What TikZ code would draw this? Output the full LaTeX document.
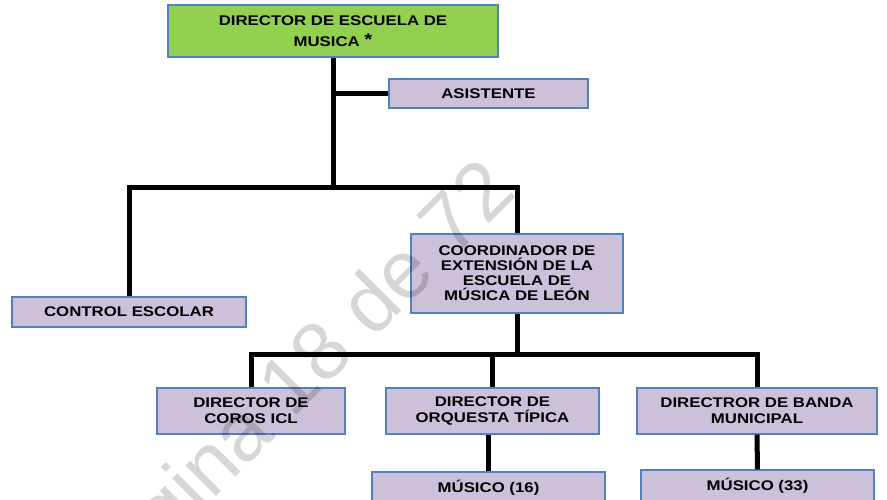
\documentclass[tikz,border=0pt]{standalone}
\usepackage{fontspec}
\setmainfont{Liberation Sans}
\newfontfamily\boxfont[FakeStretch=1.2]{Liberation Sans}
\usetikzlibrary{positioning}
\definecolor{jefe}{HTML}{92D050}
\definecolor{lila}{HTML}{CCC0DA}
\definecolor{borde}{HTML}{4F81BD}
\tikzset{
	puesto/.style={draw=borde, line width=1.3pt, fill=lila, inner sep=0pt, align=center,
		font=\boxfont\bfseries\fontsize{14}{16}\selectfont},
	liga/.style={line width=5pt, line join=miter}
}

\begin{document}
\begin{tikzpicture}[x=1pt,y=-1pt]
	\useasboundingbox (0,0) rectangle (887,500);
	% jefe de escuela
	\node[puesto, fill=jefe, minimum width=330pt, minimum height=52pt,
		font=\boxfont\bfseries\fontsize{14}{21}\selectfont] (director) at (333,31)
		{DIRECTOR DE ESCUELA DE\\MUSICA \raisebox{1pt}{\fontsize{17}{17}\selectfont *}};
	\node[puesto, minimum width=199pt, minimum height=29pt] (asistente) at (488.5,93.5) {ASISTENTE};
	\node[puesto, minimum width=234pt, minimum height=30pt] (control) at (129,312) {CONTROL ESCOLAR};
	\node[puesto, minimum width=212pt, minimum height=79pt,
		font=\boxfont\bfseries\fontsize{14}{15}\selectfont] (coordinador) at (517,273.5)
		{COORDINADOR DE\\EXTENSIÓN DE LA\\ESCUELA DE\\MÚSICA DE LEÓN};
	% directores
	\node[puesto, minimum width=188pt, minimum height=46pt] (coros) at (251,411) {DIRECTOR DE\\COROS ICL};
	\node[puesto, minimum width=213pt, minimum height=46pt] (orquesta) at (492.5,411) {DIRECTOR DE\\ORQUESTA TÍPICA};
	\node[puesto, minimum width=240pt, minimum height=46pt] (banda) at (757,411) {DIRECTROR DE BANDA\\MUNICIPAL};
	\node[puesto, minimum width=233pt, minimum height=32pt] (musico16) at (488.5,488) {MÚSICO (16)};
	\node[puesto, minimum width=233pt, minimum height=32pt] (musico33) at (757.5,486) {MÚSICO (33)};
	% lineas
	\coordinate (bus1) at (333,188);
	\coordinate (bus2) at (517,354);
	\draw[liga] (director.south) -- (bus1);
	\draw[liga] (director.south |- asistente) -- (asistente.west);
	\draw[liga] (control.north) |- (bus1) -| (coordinador.north);
	\draw[liga] (coordinador.south) -- (bus2);
	\draw[liga] (coros.north) |- (banda.north |- bus2) -- (banda.north);
	\draw[liga] (orquesta.north) -- (orquesta.north |- bus2);
	\draw[liga] (musico16.north) -- (musico16.north |- orquesta.south);
	\draw[liga] (banda.south) -- (musico33.north);
	% marca de agua
	\node[rotate=45, text=black, opacity=0.16, font=\fontsize{82}{82}\selectfont] (marca) at (292,390) {Página 18 de 72};
\end{tikzpicture}
\end{document}
